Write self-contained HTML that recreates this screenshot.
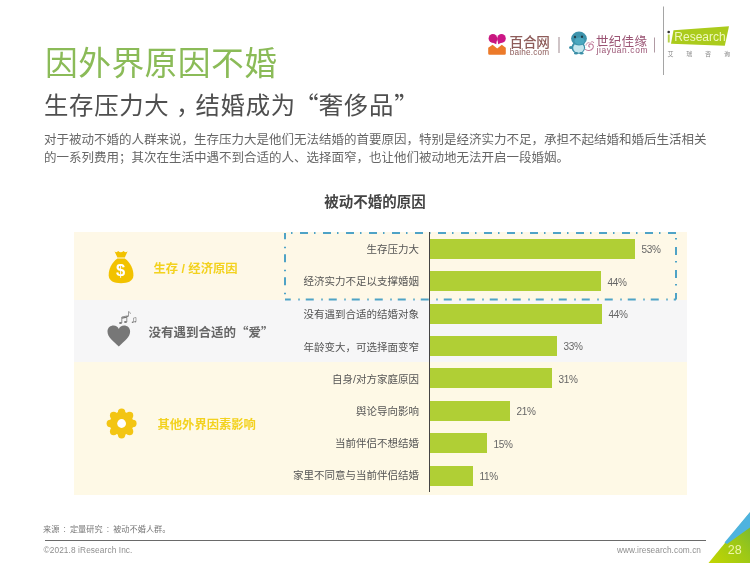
<!DOCTYPE html>
<html lang="zh-CN">
<head>
<meta charset="utf-8">
<style>
*{margin:0;padding:0;box-sizing:border-box}
html,body{width:750px;height:563px;overflow:hidden;background:#fff}
body{position:relative;font-family:"Liberation Sans","Noto Sans CJK SC",sans-serif;color:#555}
.abs{position:absolute;white-space:nowrap}
.q{font-family:"Noto Sans CJK SC",sans-serif}
.t1{left:45px;top:41.8px;font-size:32.8px;color:#8bbb58;font-weight:400;line-height:44px;letter-spacing:0.4px}
.t2{left:44px;top:88px;font-size:24.4px;color:#4f4f4f;line-height:32px;letter-spacing:0.7px}
.p{left:44px;font-size:12.5px;color:#666;line-height:18px}
.ct{left:0;width:750px;text-align:center;top:192px;font-size:14.5px;font-weight:700;color:#444;line-height:20px}
.band{position:absolute;left:73.5px;width:613.5px}
.b1{top:232px;height:68px;background:#fef8e7}
.b2{top:300px;height:62px;background:#f6f6f7}
.b3{top:362px;height:132.5px;background:#fef9e6}
.cat{font-size:12.3px;font-weight:700;line-height:16px}
.lab{right:331px;font-size:10.5px;color:#555;text-align:right;line-height:14px}
.bar{position:absolute;left:430px;height:20px;background:#b0cf35}
.pct{font-size:10px;color:#666;line-height:12px;letter-spacing:-0.3px}
.axis{position:absolute;left:429px;top:232px;width:1px;height:260px;background:#444}
</style>
</head>
<body>
<!-- header logos -->
<svg class="abs" style="left:0;top:0" width="750" height="90" viewBox="0 0 750 90">
  <!-- baihe icon -->
  <g>
    <path d="M488.2,47.8 L492.6,44.8 L497.2,48.4 L501.8,44.8 L505.8,47.8 L505.8,53.4 Q505.8,54.7 504.5,54.7 L489.5,54.7 Q488.2,54.7 488.2,53.4 Z" fill="#ec7a2a"/>
    <circle cx="492.9" cy="38.4" r="4.3" fill="#c8177f"/>
    <path d="M489.6,41 L496.2,44.2 L497.2,38.6 Z" fill="#c8177f"/>
    <circle cx="501.5" cy="38.4" r="4.3" fill="#cc1686"/>
    <path d="M504.8,41 L498.2,44.2 L497.2,38.6 Z" fill="#cc1686"/>
  </g>
  <text x="509.5" y="47" font-family="Liberation Sans, Noto Sans CJK SC, sans-serif" font-size="13.6" font-weight="500" fill="#8e5c5a" letter-spacing="-0.2">百合网</text>
  <text x="509.8" y="54.8" font-family="Liberation Sans, sans-serif" font-size="8.2" fill="#8e5c5a" letter-spacing="0.2">baihe.com</text>
  <rect x="558.5" y="37" width="1" height="16" fill="#a08a90"/>
  <!-- jiayuan mascot -->
  <g>
    <ellipse cx="571" cy="47.5" rx="2" ry="1.6" fill="#3a8ea6"/>
    <ellipse cx="578.3" cy="47.5" rx="6.8" ry="6.2" fill="#3a8fa8"/>
    <ellipse cx="578.6" cy="48" rx="5.4" ry="4.8" fill="#c4e6ee"/>
    <ellipse cx="576" cy="53.2" rx="2" ry="1.3" fill="#3a8ea6"/>
    <ellipse cx="581.5" cy="53.2" rx="2" ry="1.3" fill="#3a8ea6"/>
    <ellipse cx="579" cy="38.6" rx="7.9" ry="7" fill="#3d93ac"/>
    <ellipse cx="579.5" cy="41" rx="5" ry="3.6" fill="#4aa7bf"/>
    <ellipse cx="575" cy="37" rx="1.1" ry="1.3" fill="#1f3d48"/>
    <ellipse cx="582" cy="36.8" rx="1.1" ry="1.3" fill="#1f3d48"/>
    <path d="M585,49 C587,51.2 591.5,51 593,48 C594.2,45.6 592.3,43.2 589.8,44.3 C588.2,45 588.4,47.3 590.2,47" stroke="#c0789a" stroke-width="1.1" fill="none"/>
    <path d="M586,45.5 C586.3,42.8 589,41.8 590.2,43.5 M590.5,42.8 C591.5,41.2 593.5,41.4 593.8,43" stroke="#c0789a" stroke-width="0.9" fill="none"/>
  </g>
  <text x="596" y="45.5" font-family="Liberation Sans, Noto Sans CJK SC, sans-serif" font-size="12.5" fill="#9a5373" letter-spacing="0.3">世纪佳缘</text>
  <text x="596.5" y="52.6" font-family="Liberation Sans, sans-serif" font-size="8.4" fill="#9a5373" letter-spacing="0.62">jiayuan.com</text>
  <rect x="654" y="37.5" width="1" height="15" fill="#b09aa3"/>
  <rect x="663" y="6.5" width="1" height="68.5" fill="#a5a5a5"/>
  <!-- iResearch -->
  <path d="M673.5,30.2 L729,26.3 L724.8,45.8 L671,43.8 Z" fill="#abcb1c"/>
  <circle cx="668.7" cy="32" r="1.3" fill="#333"/>
  <rect x="667.8" y="34.5" width="1.9" height="8" fill="#b7d24a"/>
  <text x="674.3" y="41.2" font-family="Liberation Sans, sans-serif" font-size="12" fill="#eff8bd">Research</text>
  <text x="667.5" y="55.5" font-family="Liberation Sans, Noto Sans CJK SC, sans-serif" font-size="6" fill="#888" letter-spacing="12.8">艾瑞咨询</text>
</svg>

<div class="abs t1">因外界原因不婚</div>
<div class="abs t2">生存压力大<span style="display:inline-block;width:26px;padding-left:6.5px">，</span>结婚成为<span class="q" style="display:inline-block;position:relative;left:-1.5px;margin-right:-6px;width:29px">“</span>奢侈品<span class="q">”</span></div>
<div class="abs p" style="top:131px">对于被动不婚的人群来说，生存压力大是他们无法结婚的首要原因，特别是经济实力不足，承担不起结婚和婚后生活相关</div>
<div class="abs p" style="top:148.5px">的一系列费用；其次在生活中遇不到合适的人、选择面窄，也让他们被动地无法开启一段婚姻。</div>

<div class="abs ct">被动不婚的原因</div>

<div class="band b1"></div>
<div class="band b2"></div>
<div class="band b3"></div>

<!-- dashed box -->
<svg class="abs" style="left:280px;top:228px" width="405" height="76" viewBox="280 228 405 76">
  <g stroke="#4fa3c6" stroke-width="2" fill="none" stroke-dasharray="8 6 1.5 7.5">
    <path d="M285,233 H676" stroke-dashoffset="8"/>
    <path d="M676,233 V299.5" stroke-dashoffset="9"/>
    <path d="M676,299.5 H285" stroke-dashoffset="5.75"/>
    <path d="M285,299.5 V233" stroke-dashoffset="8.75"/>
  </g>
</svg>

<!-- icons -->
<svg class="abs" style="left:100px;top:245px" width="45" height="45" viewBox="100 245 45 45">
  <path d="M114.5,251.2 Q116.5,253.2 118.2,251 Q120.8,253.4 123.5,251 Q125.3,253.2 127.6,251.2 L124.8,257.6 L117.4,257.6 Z" fill="#f2c200"/>
  <path d="M117.4,258.6 L124.8,258.6 C130.5,262.5 133.6,269.5 133.4,275.5 C133.2,281 128,283.2 121,283.2 C114,283.2 108.9,281 108.7,275.5 C108.5,269.5 111.7,262.5 117.4,258.6 Z" fill="#f2c200"/>
  <text x="120.6" y="276.2" text-anchor="middle" font-family="Liberation Sans, sans-serif" font-weight="700" font-size="16.5" fill="#fff">$</text>
</svg>
<svg class="abs" style="left:100px;top:305px" width="45" height="45" viewBox="100 305 45 45">
  <path d="M118.8,346.5 C113,341 107.5,337 107.5,331.5 C107.5,327.5 110.5,325.5 113.5,325.5 C116,325.5 118,327 118.8,329 C119.6,327 121.6,325.5 124.1,325.5 C127.1,325.5 130.1,327.5 130.1,331.5 C130.1,337 124.6,341 118.8,346.5 Z" fill="#777"/>
  <g fill="#777" stroke="#777">
    <ellipse cx="120.5" cy="323" rx="1.5" ry="1.1" stroke="none"/>
    <ellipse cx="125.5" cy="322" rx="1.5" ry="1.1" stroke="none"/>
    <path d="M121.8,323 V317 L126.8,316 V322" fill="none" stroke-width="0.8"/>
    <path d="M121.8,318.2 L126.8,317.2" fill="none" stroke-width="1.2"/>
    <path d="M128.5,311.5 L128.5,316" fill="none" stroke-width="0.7"/>
    <path d="M128.5,311.5 Q130.5,312 130.5,314" fill="none" stroke-width="0.6"/>
    <ellipse cx="127.6" cy="316.3" rx="1.1" ry="0.8" stroke="none"/>
    <path d="M133.5,318 V322 M133.5,318 L136,317.5 V321.5" fill="none" stroke-width="0.6"/>
    <ellipse cx="132.7" cy="322.2" rx="1" ry="0.8" stroke="none"/>
    <ellipse cx="135.2" cy="321.7" rx="1" ry="0.8" stroke="none"/>
  </g>
</svg>
<svg class="abs" style="left:100px;top:400px" width="45" height="45" viewBox="100 400 45 45">
  <g fill="#f3c513" transform="translate(121.6,423.5)"><circle r="11.8"/><circle r="3.7" cx="0.00" cy="-11.30"/><circle r="3.7" cx="7.99" cy="-7.99"/><circle r="3.7" cx="11.30" cy="-0.00"/><circle r="3.7" cx="7.99" cy="7.99"/><circle r="3.7" cx="0.00" cy="11.30"/><circle r="3.7" cx="-7.99" cy="7.99"/><circle r="3.7" cx="-11.30" cy="0.00"/><circle r="3.7" cx="-7.99" cy="-7.99"/><circle r="4.4" fill="#fff"/></g>
</svg>

<div class="abs cat" style="left:153.5px;top:261px;color:#f3d21f">生存 / 经济原因</div>
<div class="abs cat" style="left:148.5px;top:324px;color:#666;font-size:12.5px">没有遇到合适的<span class="q">“</span>爱<span class="q">”</span></div>
<div class="abs cat" style="left:157.5px;top:416.5px;color:#f3d21f">其他外界因素影响</div>

<div class="abs lab" style="top:241.5px">生存压力大</div>
<div class="abs lab" style="top:273.5px">经济实力不足以支撑婚姻</div>
<div class="abs lab" style="top:306.5px">没有遇到合适的结婚对象</div>
<div class="abs lab" style="top:339.5px">年龄变大，可选择面变窄</div>
<div class="abs lab" style="top:371.5px">自身/对方家庭原因</div>
<div class="abs lab" style="top:403.5px">舆论导向影响</div>
<div class="abs lab" style="top:435.5px">当前伴侣不想结婚</div>
<div class="abs lab" style="top:468px">家里不同意与当前伴侣结婚</div>

<div class="axis"></div>
<div class="bar" style="top:239px;width:205px"></div>
<div class="bar" style="top:271px;width:171px"></div>
<div class="bar" style="top:304px;width:172px"></div>
<div class="bar" style="top:336px;width:127px"></div>
<div class="bar" style="top:368px;width:122px"></div>
<div class="bar" style="top:401px;width:80px"></div>
<div class="bar" style="top:433px;width:57px"></div>
<div class="bar" style="top:466px;width:43px"></div>

<div class="abs pct" style="left:641.5px;top:243.5px">53%</div>
<div class="abs pct" style="left:607.5px;top:277px">44%</div>
<div class="abs pct" style="left:608.5px;top:309px">44%</div>
<div class="abs pct" style="left:563.5px;top:340.5px">33%</div>
<div class="abs pct" style="left:558.5px;top:373.5px">31%</div>
<div class="abs pct" style="left:516.5px;top:406px">21%</div>
<div class="abs pct" style="left:493.5px;top:438.5px">15%</div>
<div class="abs pct" style="left:479.5px;top:471px">11%</div>

<div class="abs" style="left:43px;top:523.5px;font-size:8.2px;color:#777;line-height:12px">来源<span style="display:inline-block;width:10.5px;text-align:center">:</span>定量研究<span style="display:inline-block;width:10.5px;text-align:center">:</span>被动不婚人群。</div>
<div style="position:absolute;left:45px;top:540px;width:661px;height:1px;background:#6a6a6a"></div>
<div class="abs" style="left:43.5px;top:544.5px;font-size:8.3px;color:#8f8f8f;letter-spacing:0.1px;line-height:10px">©2021.8 iResearch Inc.</div>
<div class="abs" style="left:617px;top:544.5px;font-size:8.3px;color:#8f8f8f;letter-spacing:0.05px;line-height:10px">www.iresearch.com.cn</div>

<!-- corner -->
<svg class="abs" style="left:700px;top:505px" width="50" height="58" viewBox="700 505 50 58">
  <defs>
    <linearGradient id="gg" x1="0" y1="1" x2="1" y2="0">
      <stop offset="0" stop-color="#c3d600"/>
      <stop offset="0.55" stop-color="#9cc817"/>
      <stop offset="1" stop-color="#6db43a"/>
    </linearGradient>
  </defs>
  <path d="M708.5,563 L750,512.5 L750,563 Z" fill="url(#gg)"/>
  <path d="M724.5,542.5 L750,512 L750,527.5 L727,544 Z" fill="#4eb3df"/>
  <text x="727.8" y="553.8" font-family="Liberation Sans, sans-serif" font-size="12.5" fill="#eef6a8">28</text>
</svg>
</body>
</html>
